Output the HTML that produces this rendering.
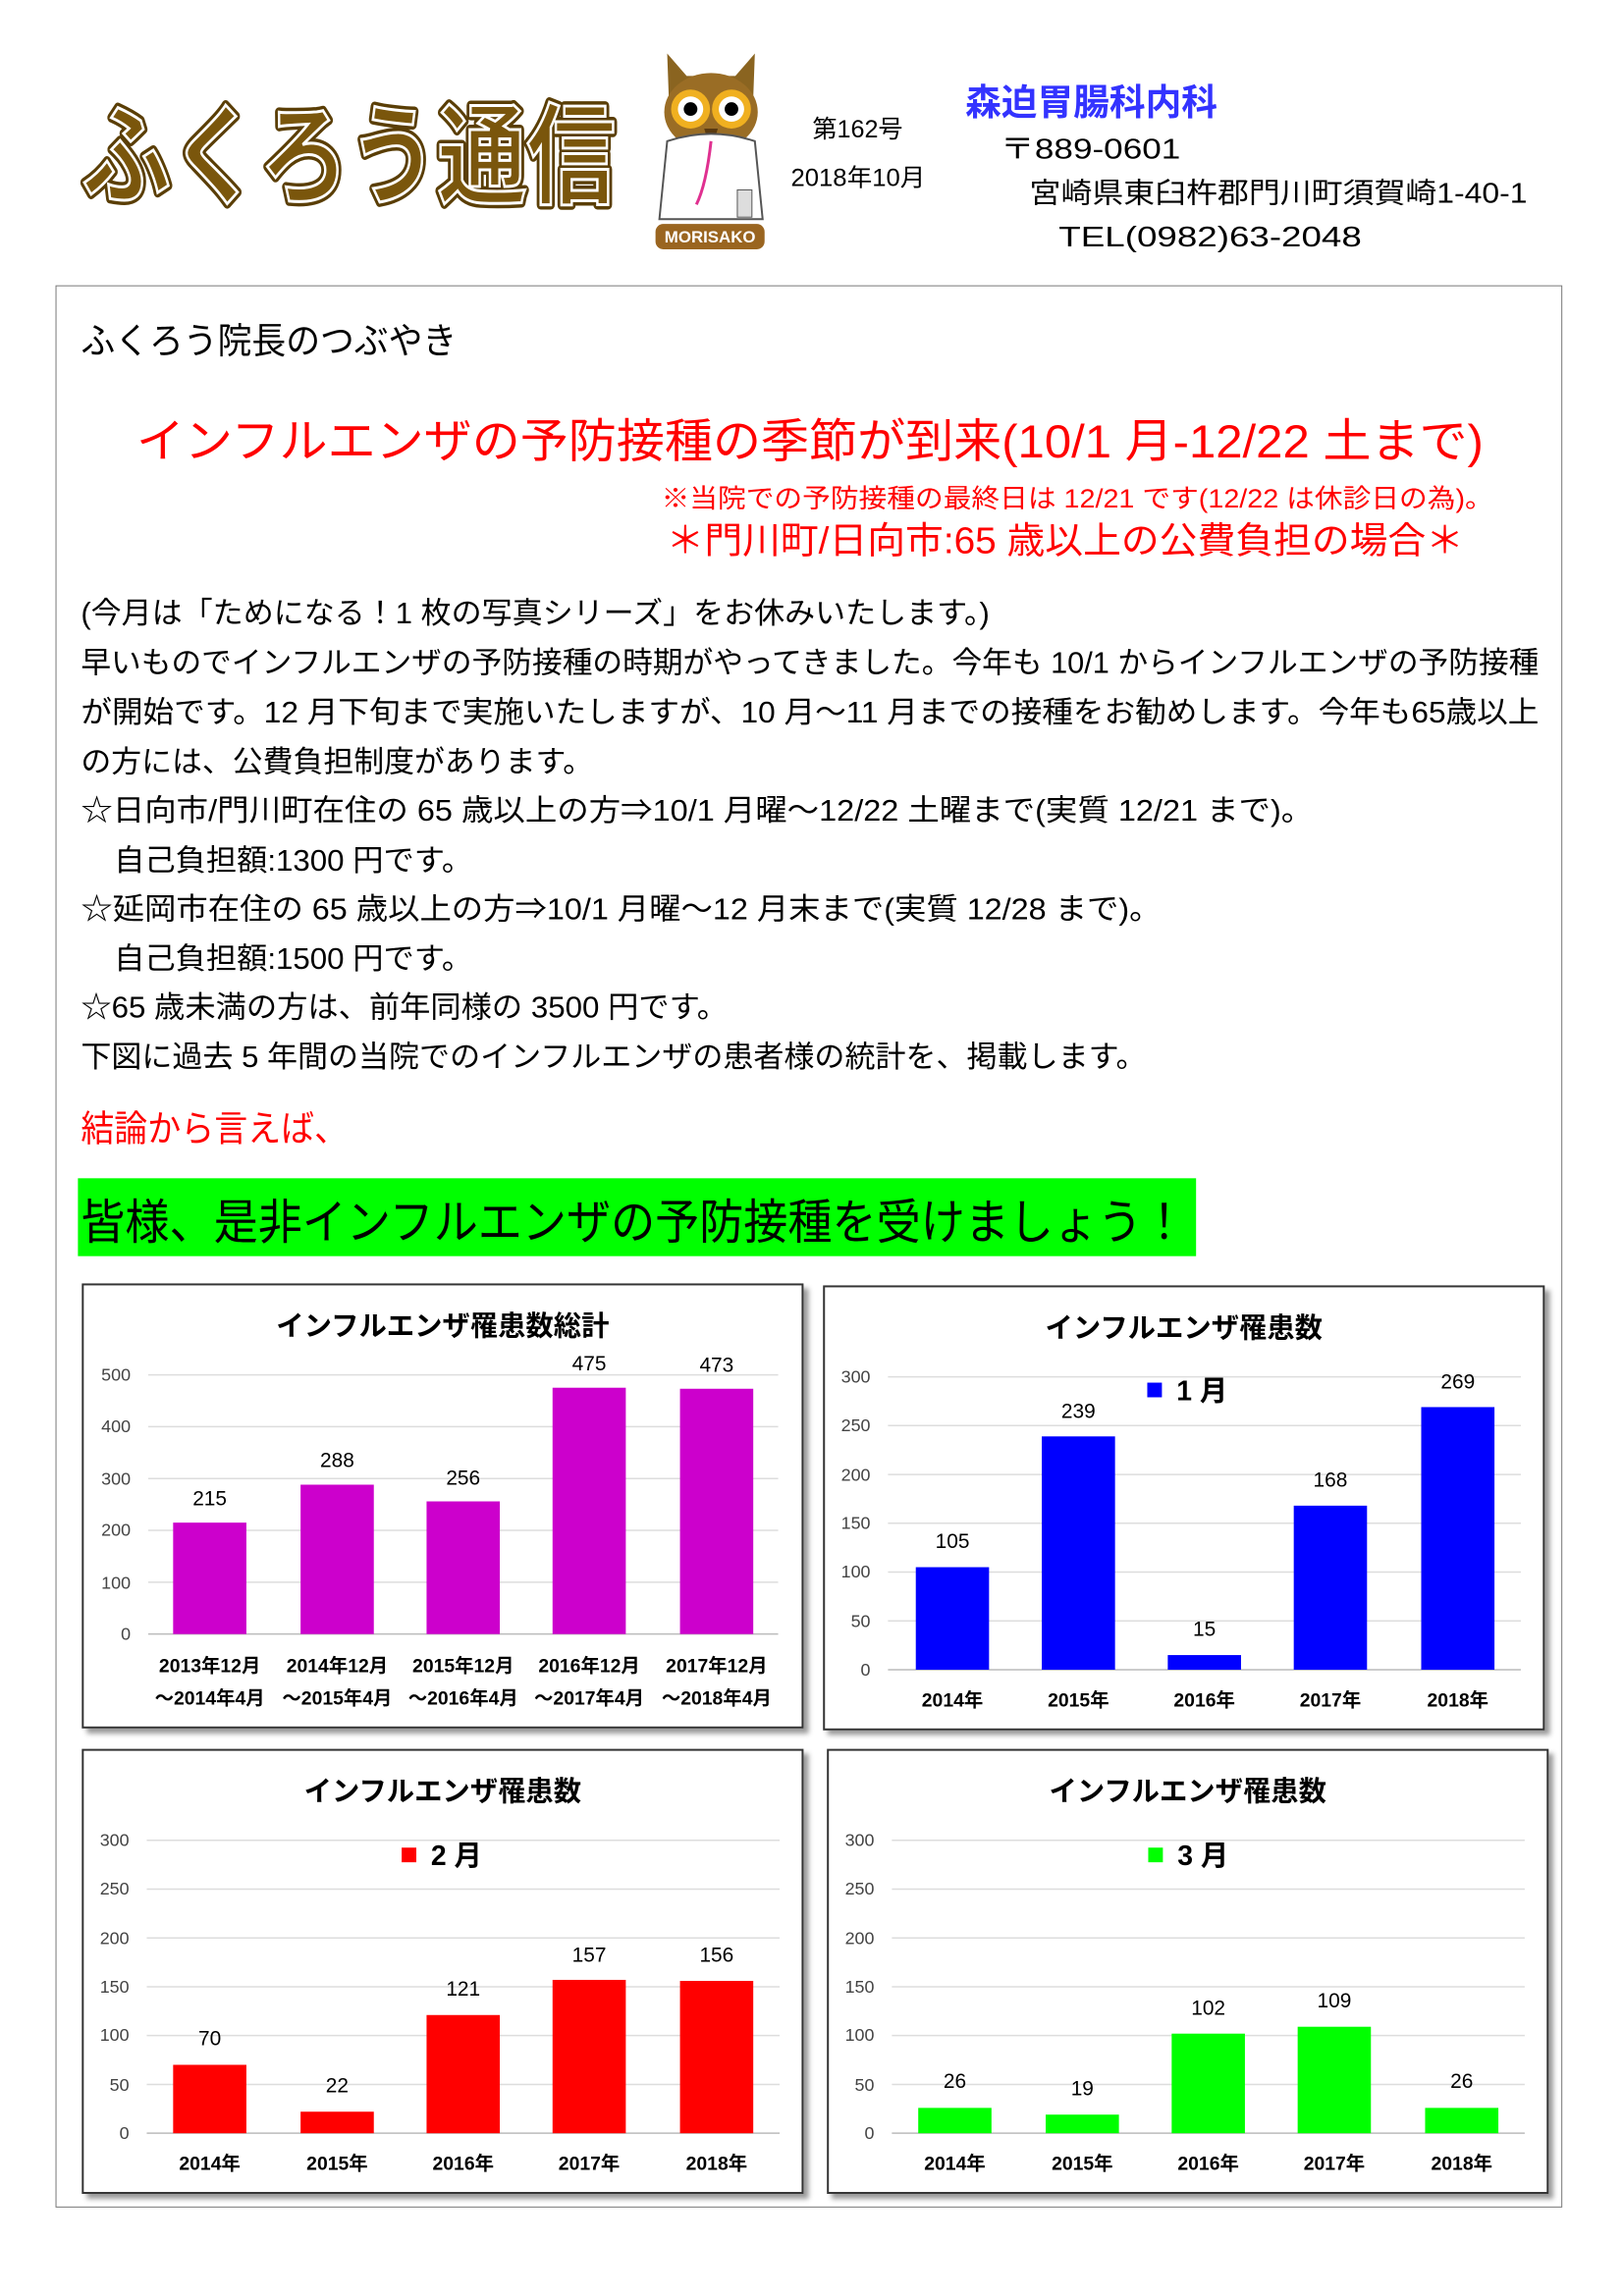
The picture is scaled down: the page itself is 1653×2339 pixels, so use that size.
<!DOCTYPE html>
<html><head><meta charset="utf-8">
<style>
html,body{margin:0;padding:0;background:#fff;}
body{width:1653px;height:2339px;position:relative;overflow:hidden;font-family:"Liberation Sans","Noto Sans CJK JP",sans-serif;}
#w{position:absolute;left:0;top:0;width:1666px;height:2358px;transform:scale(0.992);transform-origin:0 0;}
.a{position:absolute;white-space:nowrap;line-height:1;overflow:visible;}
.box{position:absolute;left:57px;top:293px;width:1545px;height:1972px;border:1.5px solid #777;}
.ch{position:absolute;width:737px;height:453px;border:2px solid #333;box-shadow:5px 5px 5px #999;background:#fff;}
svg text{font-family:"Liberation Sans","Noto Sans CJK JP",sans-serif;}
</style></head><body><div id="w">

<svg class="a" style="left:80px;top:85px" width="560" height="140">
<text x="4" y="115" font-size="112" font-weight="bold" fill="#7a560c" stroke="#5a3e06" stroke-width="10" stroke-linejoin="round" paint-order="stroke" textLength="548" lengthAdjust="spacingAndGlyphs">ふくろう通信</text>
<text x="4" y="115" font-size="112" font-weight="bold" fill="#7a560c" stroke="#fff" stroke-width="3" textLength="548" lengthAdjust="spacingAndGlyphs">ふくろう通信</text>
</svg>

<svg class="a" style="left:665px;top:50px" width="130" height="210" viewBox="0 0 130 210">
<path d="M20 5 L40 28 L90 28 L110 5 L108 60 Q65 80 22 60Z" fill="#8a6420"/>
<ellipse cx="65" cy="65" rx="48" ry="40" fill="#9a6d25"/>
<circle cx="44" cy="62" r="20" fill="#f0b020"/><circle cx="86" cy="62" r="20" fill="#f0b020"/>
<circle cx="44" cy="62" r="13" fill="#fff"/><circle cx="86" cy="62" r="13" fill="#fff"/>
<circle cx="44" cy="62" r="7" fill="#000"/><circle cx="86" cy="62" r="7" fill="#000"/>
<path d="M58 82 L65 105 L72 82Z" fill="#5a3a10"/>
<path d="M20 95 Q65 80 110 95 L118 175 L12 175Z" fill="#fff" stroke="#555" stroke-width="2"/>
<path d="M65 95 Q60 140 50 160" stroke="#e03090" stroke-width="3" fill="none"/>
<rect x="92" y="145" width="15" height="28" fill="#ddd" stroke="#555"/>
<rect x="8" y="180" width="112" height="26" rx="8" fill="#9a6520"/>
<text x="64" y="199" font-size="17" font-weight="bold" fill="#fff" text-anchor="middle">MORISAKO</text>
</svg>

<svg class="a" style="left:834px;top:116px" width="100" height="32"><text x="0" y="25" font-size="25" textLength="93" lengthAdjust="spacingAndGlyphs">第162号</text></svg>
<svg class="a" style="left:812px;top:166px" width="145" height="32"><text x="0" y="25" font-size="25" textLength="138" lengthAdjust="spacingAndGlyphs">2018年10月</text></svg>
<div class="a" style="left:991px;top:87px;font-size:37px;font-weight:bold;color:#3333ff">森迫胃腸科内科</div>
<svg class="a" style="left:1027px;top:135px" width="190" height="36"><text x="0" y="28" font-size="29" textLength="185" lengthAdjust="spacingAndGlyphs">〒889-0601</text></svg>
<svg class="a" style="left:1057px;top:180px" width="520" height="36"><text x="0" y="28" font-size="29" textLength="511" lengthAdjust="spacingAndGlyphs">宮崎県東臼杵郡門川町須賀崎1-40-1</text></svg>
<svg class="a" style="left:1087px;top:225px" width="320" height="36"><text x="0" y="28" font-size="29" textLength="311" lengthAdjust="spacingAndGlyphs">TEL(0982)63-2048</text></svg>

<div class="box"></div>
<svg class="a" style="left:83px;top:328px" width="400" height="46"><text x="0" y="35" font-size="37" textLength="386" lengthAdjust="spacingAndGlyphs">ふくろう院長のつぶやき</text></svg>
<svg class="a" style="left:140px;top:422px" width="1400" height="60"><text x="0" y="48" font-size="48" fill="#f00" textLength="1383" lengthAdjust="spacingAndGlyphs">インフルエンザの予防接種の季節が到来(10/1 月-12/22 土まで)</text></svg>
<svg class="a" style="left:679px;top:494px" width="870" height="34"><text x="0" y="27" font-size="27" fill="#f00" textLength="854" lengthAdjust="spacingAndGlyphs">※当院での予防接種の最終日は 12/21 です(12/22 は休診日の為)。</text></svg>
<svg class="a" style="left:684px;top:532px" width="830" height="46"><text x="0" y="36" font-size="38" fill="#f00" textLength="819" lengthAdjust="spacingAndGlyphs">＊門川町/日向市:65 歳以上の公費負担の場合＊</text></svg>

<svg class="a" style="left:83px;top:610px" width="950" height="40"><text x="0" y="30" font-size="31" textLength="933" lengthAdjust="spacingAndGlyphs">(今月は「ためになる！1 枚の写真シリーズ」をお休みいたします。)</text></svg>
<svg class="a" style="left:83px;top:661px" width="1510" height="40"><text x="0" y="30" font-size="31" textLength="1497" lengthAdjust="spacingAndGlyphs">早いものでインフルエンザの予防接種の時期がやってきました。今年も 10/1 からインフルエンザの予防接種</text></svg>
<svg class="a" style="left:83px;top:712px" width="1510" height="40"><text x="0" y="30" font-size="31" textLength="1497" lengthAdjust="spacingAndGlyphs">が開始です。12 月下旬まで実施いたしますが、10 月～11 月までの接種をお勧めします。今年も65歳以上</text></svg>
<svg class="a" style="left:83px;top:763px" width="540" height="40"><text x="0" y="30" font-size="31" textLength="526" lengthAdjust="spacingAndGlyphs">の方には、公費負担制度があります。</text></svg>
<svg class="a" style="left:83px;top:813px" width="1280" height="40"><text x="0" y="30" font-size="31" textLength="1265" lengthAdjust="spacingAndGlyphs">☆日向市/門川町在住の 65 歳以上の方⇒10/1 月曜～12/22 土曜まで(実質 12/21 まで)。</text></svg>
<svg class="a" style="left:117px;top:864px" width="380" height="40"><text x="0" y="30" font-size="31" textLength="368" lengthAdjust="spacingAndGlyphs">自己負担額:1300 円です。</text></svg>
<svg class="a" style="left:83px;top:914px" width="1120" height="40"><text x="0" y="30" font-size="31" textLength="1109" lengthAdjust="spacingAndGlyphs">☆延岡市在住の 65 歳以上の方⇒10/1 月曜～12 月末まで(実質 12/28 まで)。</text></svg>
<svg class="a" style="left:117px;top:965px" width="380" height="40"><text x="0" y="30" font-size="31" textLength="368" lengthAdjust="spacingAndGlyphs">自己負担額:1500 円です。</text></svg>
<svg class="a" style="left:83px;top:1015px" width="680" height="40"><text x="0" y="30" font-size="31" textLength="664" lengthAdjust="spacingAndGlyphs">☆65 歳未満の方は、前年同様の 3500 円です。</text></svg>
<svg class="a" style="left:83px;top:1066px" width="1110" height="40"><text x="0" y="30" font-size="31" textLength="1094" lengthAdjust="spacingAndGlyphs">下図に過去 5 年間の当院でのインフルエンザの患者様の統計を、掲載します。</text></svg>

<svg class="a" style="left:83px;top:1136px" width="290" height="46"><text x="0" y="36" font-size="37" fill="#f00" textLength="274" lengthAdjust="spacingAndGlyphs">結論から言えば、</text></svg>
<div class="a" style="left:80px;top:1210px;width:1148px;height:80px;background:#00ff00"></div>
<svg class="a" style="left:83px;top:1225px" width="1150" height="60"><text x="0" y="47" font-size="49" textLength="1135" lengthAdjust="spacingAndGlyphs">皆様、是非インフルエンザの予防接種を受けましょう！</text></svg>

<!-- Chart 1 -->
<div class="ch" style="left:84px;top:1318px">
<svg width="737" height="453" viewBox="0 0 490 301">
<text x="245" y="34" font-size="19" font-weight="bold" text-anchor="middle">インフルエンザ罹患数総計</text>
<g stroke="#ddd" stroke-width="1"><line x1="44" x2="474" y1="61" y2="61"/><line x1="44" x2="474" y1="96.4" y2="96.4"/><line x1="44" x2="474" y1="131.8" y2="131.8"/><line x1="44" x2="474" y1="167.2" y2="167.2"/><line x1="44" x2="474" y1="202.6" y2="202.6"/></g>
<line x1="44" x2="474" y1="238" y2="238" stroke="#bbb"/>
<g font-size="12" fill="#444" text-anchor="end"><text x="32" y="65">500</text><text x="32" y="100">400</text><text x="32" y="136">300</text><text x="32" y="171">200</text><text x="32" y="207">100</text><text x="32" y="242">0</text></g>
<g fill="#cc00cc"><rect x="61" y="161.9" width="50" height="76.1"/><rect x="148" y="136" width="50" height="102"/><rect x="234" y="147.4" width="50" height="90.6"/><rect x="320" y="69.8" width="50" height="168.2"/><rect x="407" y="70.5" width="50" height="167.5"/></g>
<g font-size="14" text-anchor="middle"><text x="86" y="150">215</text><text x="173" y="124">288</text><text x="259" y="136">256</text><text x="345" y="58">475</text><text x="432" y="59">473</text></g>
<g font-size="13" font-weight="bold" text-anchor="middle"><text x="86" y="264">2013年12月</text><text x="173" y="264">2014年12月</text><text x="259" y="264">2015年12月</text><text x="345" y="264">2016年12月</text><text x="432" y="264">2017年12月</text>
<text x="86" y="286">～2014年4月</text><text x="173" y="286">～2015年4月</text><text x="259" y="286">～2016年4月</text><text x="345" y="286">～2017年4月</text><text x="432" y="286">～2018年4月</text></g>
</svg></div>

<!-- Chart 2 -->
<div class="ch" style="left:845px;top:1320px">
<svg width="737" height="453" viewBox="0 0 490 301">
<text x="245" y="34" font-size="19" font-weight="bold" text-anchor="middle">インフルエンザ罹患数</text>
<g stroke="#ddd"><line x1="43" x2="475" y1="61" y2="61"/><line x1="43" x2="475" y1="94.3" y2="94.3"/><line x1="43" x2="475" y1="127.7" y2="127.7"/><line x1="43" x2="475" y1="161" y2="161"/><line x1="43" x2="475" y1="194.3" y2="194.3"/><line x1="43" x2="475" y1="227.7" y2="227.7"/></g>
<line x1="43" x2="475" y1="261" y2="261" stroke="#bbb"/>
<g font-size="12" fill="#444" text-anchor="end"><text x="31" y="65">300</text><text x="31" y="98">250</text><text x="31" y="132">200</text><text x="31" y="165">150</text><text x="31" y="198">100</text><text x="31" y="232">50</text><text x="31" y="265">0</text></g>
<rect x="220" y="65" width="10" height="10" fill="#0000ff"/><text x="240" y="77" font-size="19" font-weight="bold">1 月</text>
<g fill="#0000ff"><rect x="62" y="191" width="50" height="70"/><rect x="148" y="101.7" width="50" height="159.3"/><rect x="234" y="251" width="50" height="10"/><rect x="320" y="149" width="50" height="112"/><rect x="407" y="81.7" width="50" height="179.3"/></g>
<g font-size="14" text-anchor="middle"><text x="87" y="178">105</text><text x="173" y="89">239</text><text x="259" y="238">15</text><text x="345" y="136">168</text><text x="432" y="69">269</text></g>
<g font-size="13" font-weight="bold" text-anchor="middle"><text x="87" y="286">2014年</text><text x="173" y="286">2015年</text><text x="259" y="286">2016年</text><text x="345" y="286">2017年</text><text x="432" y="286">2018年</text></g>
</svg></div>

<!-- Chart 3 -->
<div class="ch" style="left:84px;top:1796px">
<svg width="737" height="453" viewBox="0 0 490 301">
<text x="245" y="34" font-size="19" font-weight="bold" text-anchor="middle">インフルエンザ罹患数</text>
<g stroke="#ddd"><line x1="43" x2="475" y1="61" y2="61"/><line x1="43" x2="475" y1="94.3" y2="94.3"/><line x1="43" x2="475" y1="127.7" y2="127.7"/><line x1="43" x2="475" y1="161" y2="161"/><line x1="43" x2="475" y1="194.3" y2="194.3"/><line x1="43" x2="475" y1="227.7" y2="227.7"/></g>
<line x1="43" x2="475" y1="261" y2="261" stroke="#bbb"/>
<g font-size="12" fill="#444" text-anchor="end"><text x="31" y="65">300</text><text x="31" y="98">250</text><text x="31" y="132">200</text><text x="31" y="165">150</text><text x="31" y="198">100</text><text x="31" y="232">50</text><text x="31" y="265">0</text></g>
<rect x="217" y="66" width="10" height="10" fill="#ff0000"/><text x="237" y="78" font-size="19" font-weight="bold">2 月</text>
<g fill="#ff0000"><rect x="61" y="214.3" width="50" height="46.7"/><rect x="148" y="246.3" width="50" height="14.7"/><rect x="234" y="180.3" width="50" height="80.7"/><rect x="320" y="156.3" width="50" height="104.7"/><rect x="407" y="157" width="50" height="104"/></g>
<g font-size="14" text-anchor="middle"><text x="86" y="201">70</text><text x="173" y="233">22</text><text x="259" y="167">121</text><text x="345" y="144">157</text><text x="432" y="144">156</text></g>
<g font-size="13" font-weight="bold" text-anchor="middle"><text x="86" y="286">2014年</text><text x="173" y="286">2015年</text><text x="259" y="286">2016年</text><text x="345" y="286">2017年</text><text x="432" y="286">2018年</text></g>
</svg></div>

<!-- Chart 4 -->
<div class="ch" style="left:849px;top:1796px">
<svg width="737" height="453" viewBox="0 0 490 301">
<text x="245" y="34" font-size="19" font-weight="bold" text-anchor="middle">インフルエンザ罹患数</text>
<g stroke="#ddd"><line x1="43" x2="475" y1="61" y2="61"/><line x1="43" x2="475" y1="94.3" y2="94.3"/><line x1="43" x2="475" y1="127.7" y2="127.7"/><line x1="43" x2="475" y1="161" y2="161"/><line x1="43" x2="475" y1="194.3" y2="194.3"/><line x1="43" x2="475" y1="227.7" y2="227.7"/></g>
<line x1="43" x2="475" y1="261" y2="261" stroke="#bbb"/>
<g font-size="12" fill="#444" text-anchor="end"><text x="31" y="65">300</text><text x="31" y="98">250</text><text x="31" y="132">200</text><text x="31" y="165">150</text><text x="31" y="198">100</text><text x="31" y="232">50</text><text x="31" y="265">0</text></g>
<rect x="218" y="66" width="10" height="10" fill="#00ff00"/><text x="238" y="78" font-size="19" font-weight="bold">3 月</text>
<g fill="#00ff00"><rect x="61" y="243.7" width="50" height="17.3"/><rect x="148" y="248.3" width="50" height="12.7"/><rect x="234" y="193" width="50" height="68"/><rect x="320" y="188.3" width="50" height="72.7"/><rect x="407" y="243.7" width="50" height="17.3"/></g>
<g font-size="14" text-anchor="middle"><text x="86" y="230">26</text><text x="173" y="235">19</text><text x="259" y="180">102</text><text x="345" y="175">109</text><text x="432" y="230">26</text></g>
<g font-size="13" font-weight="bold" text-anchor="middle"><text x="86" y="286">2014年</text><text x="173" y="286">2015年</text><text x="259" y="286">2016年</text><text x="345" y="286">2017年</text><text x="432" y="286">2018年</text></g>
</svg></div>

</div></body></html>
